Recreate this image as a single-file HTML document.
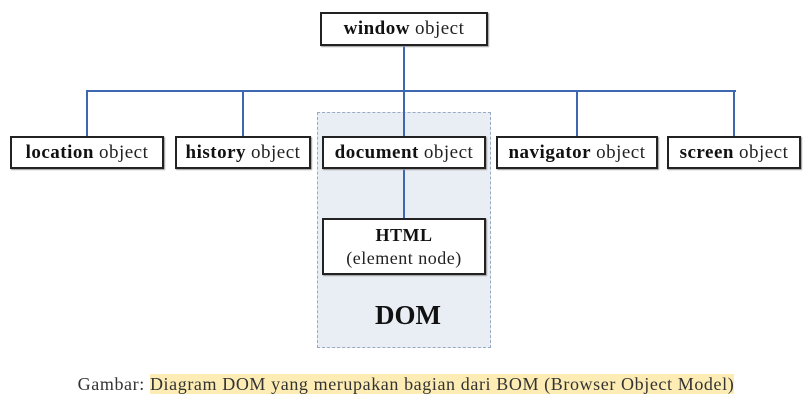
<!DOCTYPE html>
<html><head><meta charset="utf-8"><style>
html,body{margin:0;padding:0;background:#fff;}
body{width:812px;height:406px;position:relative;overflow:hidden;font-family:"Liberation Serif",serif;color:#222;}
.b{position:absolute;box-sizing:border-box;border:2px solid #222;background:#fff;display:flex;align-items:center;justify-content:center;font-size:19px;letter-spacing:0.5px;white-space:nowrap;box-shadow:1px 1px 1px #999;}
.b b{color:#111;margin-right:5px;}
.l{position:absolute;background:#3d67b0;}
</style></head><body>
<div style="position:absolute;left:317px;top:112px;width:174px;height:236px;box-sizing:border-box;border:1px dashed #9aaac4;background:#e9edf4;"></div>
<div class="l" style="left:403px;top:45px;width:2px;height:92px"></div>
<div class="l" style="left:86px;top:90px;width:650px;height:2px"></div>
<div class="l" style="left:86px;top:90px;width:2px;height:47px"></div>
<div class="l" style="left:242px;top:90px;width:2px;height:47px"></div>
<div class="l" style="left:576px;top:90px;width:2px;height:47px"></div>
<div class="l" style="left:733px;top:90px;width:2px;height:47px"></div>
<div class="l" style="left:403px;top:168px;width:2px;height:52px"></div>
<div class="b" style="left:320px;top:12px;width:168px;height:34px"><b>window</b>object</div>
<div class="b" style="left:10px;top:136px;width:154px;height:33px"><b>location</b>object</div>
<div class="b" style="left:175px;top:136px;width:136px;height:33px"><b>history</b>object</div>
<div class="b" style="left:322px;top:136px;width:164px;height:33px"><b>document</b>object</div>
<div class="b" style="left:496px;top:136px;width:162px;height:33px"><b>navigator</b>object</div>
<div class="b" style="left:667px;top:136px;width:134px;height:33px"><b>screen</b>object</div>
<div class="b" style="left:322px;top:218px;width:164px;height:57px;flex-direction:column;line-height:23px;font-size:18px"><b style="margin:0">HTML</b><span>(element node)</span></div>
<div style="position:absolute;left:317px;top:300px;width:182px;text-align:center;font-weight:bold;font-size:27px;color:#111">DOM</div>
<div style="position:absolute;left:0;top:373px;width:812px;text-align:center;font-size:18px;letter-spacing:0.6px;line-height:23px;color:#333">Gambar: <span style="background:#fdedb5">Diagram DOM yang merupakan bagian dari BOM (Browser Object Model)</span></div>
</body></html>
